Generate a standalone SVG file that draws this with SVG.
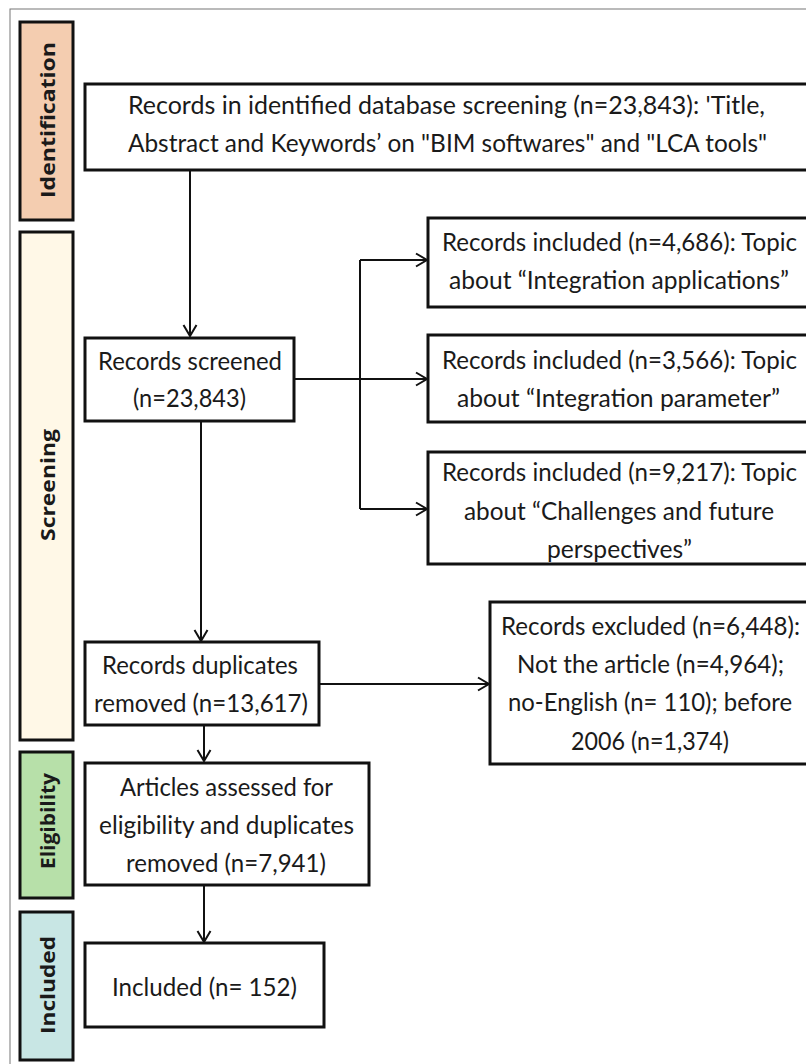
<svg xmlns="http://www.w3.org/2000/svg" width="806" height="1064" viewBox="0 0 806 1064">
<defs>
<style>
.box{fill:#ffffff;stroke:#111;stroke-width:3}
.bar{stroke:#111;stroke-width:3}
.t{font-family:Lato,"Liberation Sans",sans-serif;font-size:25px;fill:#1a1a1a;text-anchor:middle}
.lab{font-family:"Open Sans","DejaVu Sans",sans-serif;font-weight:700;font-size:19px;fill:#1a1a1a;text-anchor:middle}
.c{fill:none;stroke:#111;stroke-width:2}
</style>
<marker id="ah" markerUnits="userSpaceOnUse" markerWidth="16" markerHeight="16" viewBox="-12 -8 14 16" refX="0" refY="0" orient="auto">
<path d="M-11,-6.5 L0,0 L-11,6.5" fill="none" stroke="#111" stroke-width="2"/>
</marker>
</defs>
<rect x="0" y="0" width="806" height="1064" fill="#ffffff"/>
<rect x="10" y="9" width="820" height="1080" fill="none" stroke="#777" stroke-width="1"/>

<g id="phase-identification">
<rect class="bar" x="20" y="22" width="53" height="198" fill="#f4cdb0"/>
<text class="lab" transform="translate(55,120) rotate(-90)" textLength="156" lengthAdjust="spacingAndGlyphs">Identification</text>
</g>
<g id="phase-screening">
<rect class="bar" x="20" y="232" width="53" height="508" fill="#fff8e7"/>
<text class="lab" transform="translate(55,485) rotate(-90)" textLength="112" lengthAdjust="spacingAndGlyphs">Screening</text>
</g>
<g id="phase-eligibility">
<rect class="bar" x="20" y="752" width="53" height="146" fill="#b7e0a9"/>
<text class="lab" transform="translate(55,821) rotate(-90)" textLength="96" lengthAdjust="spacingAndGlyphs">Eligibility</text>
</g>
<g id="phase-included">
<rect class="bar" x="20" y="912" width="53" height="148" fill="#c8e6e4"/>
<text class="lab" transform="translate(55,985) rotate(-90)" textLength="98" lengthAdjust="spacingAndGlyphs">Included</text>
</g>

<g id="connectors">
<path class="c" d="M190,170 V336" marker-end="url(#ah)"/>
<path class="c" d="M294,379 H427" marker-end="url(#ah)"/>
<path class="c" d="M360,260 V509"/>
<path class="c" d="M360,260 H427" marker-end="url(#ah)"/>
<path class="c" d="M360,509 H427" marker-end="url(#ah)"/>
<path class="c" d="M201,421 V641" marker-end="url(#ah)"/>
<path class="c" d="M319,684 H489" marker-end="url(#ah)"/>
<path class="c" d="M204,725 V761" marker-end="url(#ah)"/>
<path class="c" d="M204,885 V942" marker-end="url(#ah)"/>
</g>

<g id="node-identified">
<rect class="box" x="85" y="84" width="740" height="86"/>
<text class="t" x="446.5" y="114" textLength="637" lengthAdjust="spacingAndGlyphs">Records in identified database screening (n=23,843):  'Title,</text>
<text class="t" x="447.5" y="152" textLength="639" lengthAdjust="spacingAndGlyphs">Abstract and Keywords’  on "BIM softwares" and "LCA tools"</text>
</g>
<g id="node-screened">
<rect class="box" x="85" y="338" width="209" height="83"/>
<text class="t" x="190" y="370" textLength="184" lengthAdjust="spacingAndGlyphs">Records screened</text>
<text class="t" x="189.5" y="407" textLength="113" lengthAdjust="spacingAndGlyphs">(n=23,843)</text>
</g>
<g id="node-applications">
<rect class="box" x="428" y="218" width="400" height="89"/>
<text class="t" x="619.5" y="251" textLength="355" lengthAdjust="spacingAndGlyphs">Records included (n=4,686): Topic</text>
<text class="t" x="619" y="289" textLength="340" lengthAdjust="spacingAndGlyphs">about “Integration applications”</text>
</g>
<g id="node-parameter">
<rect class="box" x="428" y="335" width="400" height="87"/>
<text class="t" x="619.5" y="369" textLength="355" lengthAdjust="spacingAndGlyphs">Records included (n=3,566): Topic</text>
<text class="t" x="618.5" y="407" textLength="323" lengthAdjust="spacingAndGlyphs">about “Integration parameter”</text>
</g>
<g id="node-challenges">
<rect class="box" x="428" y="452" width="400" height="112"/>
<text class="t" x="619.5" y="481" textLength="355" lengthAdjust="spacingAndGlyphs">Records included (n=9,217): Topic</text>
<text class="t" x="619" y="520" textLength="310" lengthAdjust="spacingAndGlyphs">about “Challenges and future</text>
<text class="t" x="619.5" y="558" textLength="145" lengthAdjust="spacingAndGlyphs">perspectives”</text>
</g>
<g id="node-duplicates">
<rect class="box" x="85" y="642" width="234" height="83"/>
<text class="t" x="200" y="674" textLength="196" lengthAdjust="spacingAndGlyphs">Records duplicates</text>
<text class="t" x="201" y="712" textLength="214" lengthAdjust="spacingAndGlyphs">removed (n=13,617)</text>
</g>
<g id="node-excluded">
<rect class="box" x="490" y="602" width="340" height="162"/>
<text class="t" x="650.5" y="635" textLength="299" lengthAdjust="spacingAndGlyphs">Records excluded (n=6,448):</text>
<text class="t" x="650.5" y="673" textLength="267" lengthAdjust="spacingAndGlyphs">Not the article (n=4,964);</text>
<text class="t" x="650" y="711" textLength="284" lengthAdjust="spacingAndGlyphs">no-English (n= 110); before</text>
<text class="t" x="650" y="750" textLength="158" lengthAdjust="spacingAndGlyphs">2006 (n=1,374)</text>
</g>
<g id="node-articles">
<rect class="box" x="85" y="763" width="284" height="122"/>
<text class="t" x="226.5" y="796" textLength="213" lengthAdjust="spacingAndGlyphs">Articles assessed for</text>
<text class="t" x="226.5" y="834" textLength="255" lengthAdjust="spacingAndGlyphs">eligibility and duplicates</text>
<text class="t" x="226" y="872" textLength="200" lengthAdjust="spacingAndGlyphs">removed (n=7,941)</text>
</g>
<g id="node-included">
<rect class="box" x="85" y="943" width="239" height="84"/>
<text class="t" x="204.5" y="996" textLength="185" lengthAdjust="spacingAndGlyphs">Included (n= 152)</text>
</g>
</svg>
